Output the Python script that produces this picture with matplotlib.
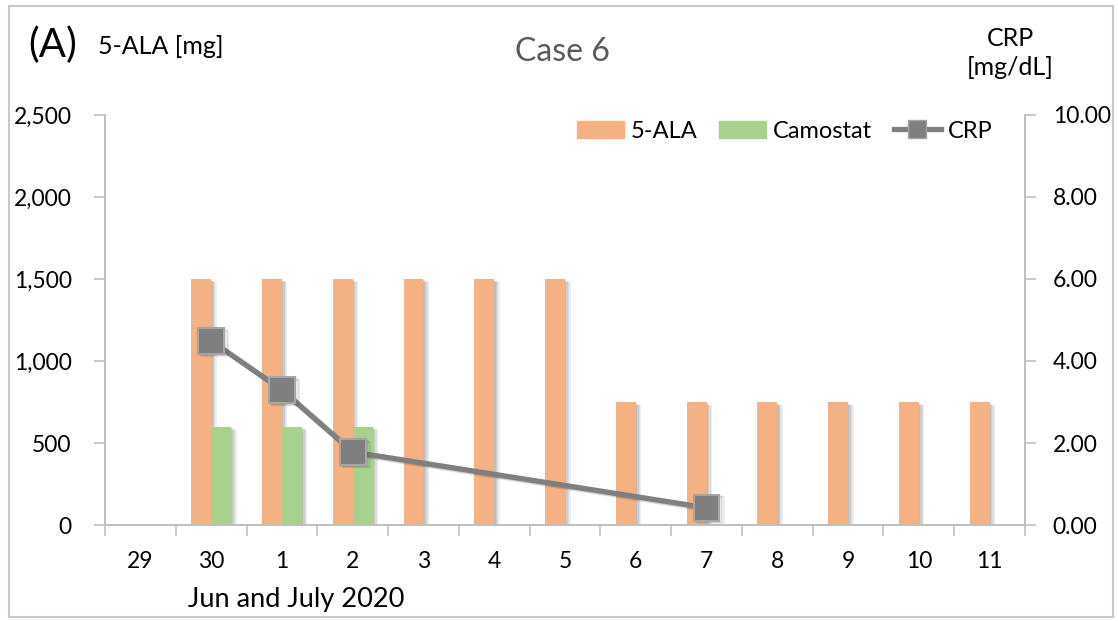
import numpy as np
import matplotlib.pyplot as plt
from matplotlib import patheffects as pe
from matplotlib.lines import Line2D
from matplotlib.patches import Patch, Rectangle

plt.rcParams['font.family'] = ['Lato', 'DejaVu Sans']

# daily values
days = ['29', '30', '1', '2', '3', '4', '5', '6', '7', '8', '9', '10', '11']
ala_mg = [0, 1500, 1500, 1500, 1500, 1500, 1500, 750, 750, 750, 750, 750, 750]
camostat_mg = [0, 600, 600, 600, 0, 0, 0, 0, 0, 0, 0, 0, 0]
crp_mgdl = [np.nan, 4.49, 3.29, 1.78, np.nan, np.nan, np.nan, np.nan, 0.42,
            np.nan, np.nan, np.nan, np.nan]

orange = '#F4B183'
green = '#A9D18E'
grey = '#7F7F7F'
axis_grey = '#BFBFBF'

# soft drop shadow built from a few stacked offsets
bar_shadow = [pe.SimplePatchShadow(offset=(d, -d * 0.6), shadow_rgbFace='black', alpha=0.07)
              for d in (1, 2, 3, 4)] + [pe.Normal()]
line_shadow = [pe.SimpleLineShadow(offset=(d, -d * 0.6), shadow_color='black', alpha=0.07)
               for d in (1, 2, 3)] + [pe.Normal()]

fig = plt.figure(figsize=(11.18, 6.21), dpi=100)
ax = fig.add_axes([105 / 1118, 1 - 525 / 621, 920 / 1118, 410 / 621])
ax2 = ax.twinx()

x = np.arange(len(days))
w = 0.28
ala_bars = ax.bar(x - w / 2, ala_mg, width=w, color=orange, zorder=2)
cam_bars = ax.bar(x + w / 2, camostat_mg, width=w, color=green, zorder=2)
for b in list(ala_bars) + list(cam_bars):
    if b.get_height() > 0:
        b.set_path_effects(bar_shadow)

crp = np.array(crp_mgdl)
ok = ~np.isnan(crp)
ax2.plot(x[ok], crp[ok], color=grey, lw=3.8, marker='s', markersize=18.5,
         markerfacecolor=grey, markeredgecolor='#A5A5A5', markeredgewidth=1.5,
         zorder=3, path_effects=line_shadow)

ax.set_xlim(-0.5, len(days) - 0.5)
ax.set_ylim(0, 2500)
ax2.set_ylim(0, 10)
ax.set_yticks(np.arange(0, 2501, 500))
ax.set_yticklabels([f'{v:,}' for v in range(0, 2501, 500)])
ax2.set_yticks(np.arange(0, 10.01, 2))
ax2.set_yticklabels([f'{v:.2f}' for v in np.arange(0, 10.01, 2)])

# boundary tick marks, labels in the middle of each day
ax.set_xticks(np.arange(-0.5, len(days), 1.0))
ax.set_xticklabels([])
ax.set_xticks(x, minor=True)
ax.set_xticklabels(days, minor=True)
ax.tick_params(axis='x', which='major', length=8, color=axis_grey, width=1.2, direction='out')
ax.tick_params(axis='x', which='minor', length=0, labelsize=16.5, pad=19)
ax.tick_params(axis='y', length=8, color=axis_grey, width=1.2, labelsize=16.5, pad=16)
ax2.tick_params(axis='y', length=8, color=axis_grey, width=1.2, labelsize=16.5, pad=12)

for a in (ax, ax2):
    a.spines['top'].set_visible(False)
    for s in ('left', 'right', 'bottom'):
        a.spines[s].set_color(axis_grey)
        a.spines[s].set_linewidth(1.2)

handles = [Patch(color=orange, label='5-ALA'),
           Patch(color=green, label='Camostat'),
           Line2D([], [], color=grey, lw=3.8, marker='s', markersize=13,
                  markerfacecolor=grey, markeredgecolor='#A5A5A5', label='CRP')]
ax2.legend(handles=handles, loc='upper right', bbox_to_anchor=(0.988, 1.038), ncol=3,
           frameon=False, fontsize=17, handlelength=2.0, handleheight=0.75,
           columnspacing=0.9, handletextpad=0.3)

fig.text(28 / 1118, 1 - 45 / 621, '(A)', fontsize=29, va='center', ha='left')
fig.text(98 / 1118, 1 - 47 / 621, '5-ALA [mg]', fontsize=18, va='center', ha='left')
fig.text(562 / 1118, 1 - 52 / 621, 'Case 6', fontsize=23, color='#595959', va='center', ha='center')
fig.text(1010 / 1118, 1 - 53 / 621, 'CRP\n[mg/dL]', fontsize=18, va='center', ha='center',
         linespacing=1.3)
fig.text(188 / 1118, 1 - 600 / 621, 'Jun and July 2020', fontsize=19.5, va='center', ha='left')

# outer frame
fig.patches.append(Rectangle((9 / 1118, 4 / 621), 1104 / 1118, 611 / 621, transform=fig.transFigure,
                             fill=False, edgecolor='#C8C8C8', lw=1.5))

fig.savefig('out.png', dpi=100)
